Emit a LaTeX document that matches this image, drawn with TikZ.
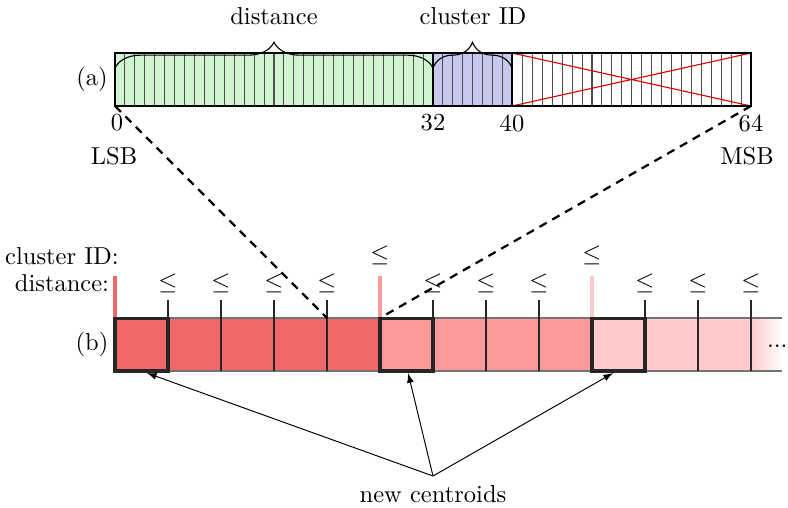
\documentclass[tikz,border=0pt]{standalone}
\usetikzlibrary{decorations.pathreplacing,arrows.meta,calc}
\definecolor{bitgreen}{RGB}{208,245,208}
\definecolor{bitblue}{RGB}{200,200,238}
\definecolor{rA}{RGB}{242,104,104}
\definecolor{rB}{RGB}{251,154,154}
\definecolor{rC}{RGB}{253,203,203}
\begin{document}
\begin{tikzpicture}[x=0.408pt,y=-0.408pt,
  bitline/.style={black!70,line width=0.45pt},
  rowline/.style={black!55,line width=0.6pt},
  divline/.style={black!85,line width=0.45pt},
  cbox/.style={draw=black!85,line width=1.25pt,minimum width=21.6pt,minimum height=21.6pt,inner sep=0pt,outer sep=0pt},
  lbl/.style={inner sep=1pt},
  bracestyle/.style={decorate,decoration={brace,amplitude=10.5pt},line width=0.45pt},
  redtick/.style={line width=1.6pt},
  dashline/.style={dashed,dash pattern=on 3.4pt off 2.6pt,line width=0.9pt},
  arr/.style={-{Latex[length=4pt,width=2.8pt]},line width=0.4pt}]
\useasboundingbox (0,0) rectangle (788,507);
% ---------- (a) bit field ----------
\coordinate (a0) at (115,106);
\coordinate (a64) at (751,106);
\fill[bitgreen] (115,53) rectangle (433,106);
\fill[bitblue] (433,53) rectangle (512,106);
\foreach \i in {1,...,63} \draw[bitline] ({115+\i*9.9375},53) -- ++(0,53);
\draw[red!85!black,line width=0.45pt] (512,53) -- (751,106) (512,106) -- (751,53);
\draw[line width=0.5pt] (115,53) rectangle (751,106);
\draw[line width=0.8pt] (433,53) rectangle (512,106);
\draw[bracestyle] (115,68) -- (433,68);
\draw[bracestyle] (433,68) -- (512,68);
\node[lbl] (tdist) at (274,16) {distance};
\node[lbl] (tcid) at (473,16) {cluster ID};
\node[lbl] (la) at (92,79) {(a)};
\node[lbl] (n0) at (117,123) {0};
\node[lbl] (n32) at (433,123) {32};
\node[lbl] (n40) at (512,123) {40};
\node[lbl] (n64) at (751,123) {64};
\node[lbl] (lsb) at (114,156) {LSB};
\node[lbl] (msb) at (747,156) {MSB};
% ---------- (b) row ----------
\fill[rA] (115,318) rectangle (380,371);
\fill[rB] (380,318) rectangle (592,371);
\fill[rC] (592,318) rectangle (751,371);
\shade[left color=rC,right color=white] (751,318) rectangle (782,371);
\draw[rowline] (115,318) -- (782,318) (115,371) -- (782,371);
\foreach \x in {168,221,274,327,433,486,539,645,698,751}{
  \draw[divline] (\x,300) -- (\x,371);
  \node[lbl] at (\x,283) {$\leq$};
}
\draw[redtick,rA] (115,276) -- (115,318);
\draw[redtick,rB] (380,276) -- (380,318);
\draw[redtick,rC] (592,276) -- (592,318);
\node[lbl] at (380,255) {$\leq$};
\node[lbl] at (592,255) {$\leq$};
\node[cbox] (c1) at (141.5,344.5) {};
\node[cbox] (c2) at (406.5,344.5) {};
\node[cbox] (c3) at (618.5,344.5) {};
\node[inner sep=0pt,anchor=east] (dots) at (788,346) {...};
\node[lbl] (lb) at (92,344) {(b)};
\node[lbl] (tcl) at (62,256) {cluster ID:};
\node[lbl] (tdl) at (62,283) {distance:};
\coordinate (b0) at (327,318);
\coordinate (b1) at (380,318);
% dashed zoom lines
\draw[dashline] (a0) -- (b0);
\draw[dashline] (a64) -- (b1);
% new centroids
\coordinate (apex) at (433,476);
\node[lbl] (nc) at (433,494) {new centroids};
\draw[arr] (apex) -- ($(c1.south west)!0.6!(c1.south east)+(0,2)$);
\draw[arr] (apex) -- ($(c2.south west)!0.53!(c2.south east)+(0,2)$);
\draw[arr] (apex) -- ($(c3.south west)!0.4!(c3.south east)+(0,2)$);
\end{tikzpicture}
\end{document}
